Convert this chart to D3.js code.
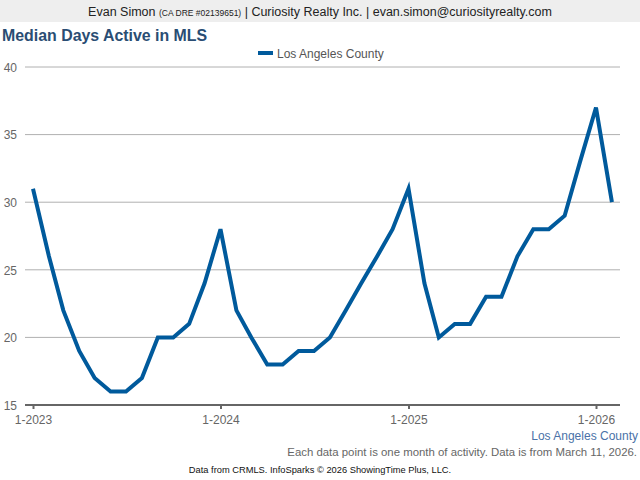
<!DOCTYPE html>
<html><head><meta charset="utf-8">
<script src="https://cdn.jsdelivr.net/npm/d3@7"></script>
<style>body{margin:0;background:#fff;}svg{display:block;font-family:"Liberation Sans",Arial,sans-serif;}</style>
</head><body>
<svg id="c" width="640" height="480"></svg>
<script>
const months = ["1-2023","2-2023","3-2023","4-2023","5-2023","6-2023","7-2023","8-2023","9-2023","10-2023","11-2023","12-2023",
"1-2024","2-2024","3-2024","4-2024","5-2024","6-2024","7-2024","8-2024","9-2024","10-2024","11-2024","12-2024",
"1-2025","2-2025","3-2025","4-2025","5-2025","6-2025","7-2025","8-2025","9-2025","10-2025","11-2025","12-2025",
"1-2026","2-2026"];
const values = [31,26,22,19,17,16,16,17,20,20,21,24,
28,22,20,18,18,19,19,20,22,24,26,28,
31,24,20,21,21,23,23,26,28,28,29,33,
37,30];
const yTicks = [15,20,25,30,35,40];
const xTickLabels = ["1-2023","1-2024","1-2025","1-2026"];
const seriesName = "Los Angeles County";

const svg = d3.select("#c");
const parse = d3.timeParse("%m-%Y");
const data = months.map((m,i)=>({d:parse(m), v:values[i]}));

// header
svg.append("rect").attr("x",0).attr("y",0).attr("width",640).attr("height",22).attr("fill","#eeeeee");
const h = svg.append("text").attr("x",320).attr("y",16).attr("text-anchor","middle").attr("fill","#222").attr("font-size",12.5);
h.append("tspan").text("Evan Simon ");
h.append("tspan").attr("font-size",8.5).text("(CA DRE #02139651)");
h.append("tspan").text(" | Curiosity Realty Inc. | evan.simon@curiosityrealty.com");

svg.append("text").attr("x",2).attr("y",41).attr("font-size",15.9).attr("font-weight","bold").attr("fill","#2a4d73").text("Median Days Active in MLS");

// legend
svg.append("rect").attr("x",258).attr("y",51).attr("width",15).attr("height",4).attr("fill","#005a9c");
svg.append("text").attr("x",277).attr("y",58).attr("font-size",12).attr("fill","#555").text(seriesName);

const x = d3.scaleTime().domain([parse("1-2023"), parse("1-2026")]).range([33,596]);
const y = d3.scaleLinear().domain([15,40]).range([405,67]);

// grid
svg.append("g").selectAll("line").data(yTicks.slice(1)).join("line")
  .attr("x1",25).attr("x2",620).attr("y1",d=>y(d)).attr("y2",d=>y(d))
  .attr("stroke","#b0b0b0").attr("stroke-width",1);

// y labels
const yAxis = d3.axisLeft(y).tickValues(yTicks).tickSize(0).tickPadding(0);
const yg = svg.append("g").attr("transform","translate(17,0)").call(yAxis);
yg.select(".domain").remove();
yg.selectAll("text").attr("font-size",12).attr("fill","#666").attr("font-family","Liberation Sans, Arial, sans-serif").attr("dy","0.35em");

// x axis
const xTicks = xTickLabels.map(parse);
const xAxis = d3.axisBottom(x).tickValues(xTicks).tickFormat(d3.timeFormat("%-m-%Y")).tickSize(4).tickSizeOuter(0).tickPadding(6);
const xg = svg.append("g").attr("transform","translate(0,405)").call(xAxis);
xg.select(".domain").remove();
xg.append("line").attr("x1",25).attr("x2",620).attr("y1",0).attr("y2",0).attr("stroke","#666").attr("stroke-width",2);
xg.selectAll(".tick line").attr("stroke","#666").attr("stroke-width",2);
xg.selectAll("text").attr("font-size",12).attr("fill","#666").attr("font-family","Liberation Sans, Arial, sans-serif");

// line
svg.append("path").datum(data)
  .attr("d", d3.line().x(d=>x(d.d)).y(d=>y(d.v)))
  .attr("fill","none").attr("stroke","#005a9c").attr("stroke-width",4).attr("stroke-linejoin","miter").attr("stroke-linecap","butt");

svg.append("text").attr("x",638).attr("y",440).attr("text-anchor","end").attr("font-size",12).attr("fill","#4a72a8").text(seriesName);
svg.append("text").attr("x",637).attr("y",456).attr("text-anchor","end").attr("font-size",11.4).attr("fill","#666").text("Each data point is one month of activity. Data is from March 11, 2026.");
svg.append("text").attr("x",320).attr("y",473).attr("text-anchor","middle").attr("font-size",9.3).attr("fill","#111").text("Data from CRMLS. InfoSparks © 2026 ShowingTime Plus, LLC.");
</script>
</body></html>
